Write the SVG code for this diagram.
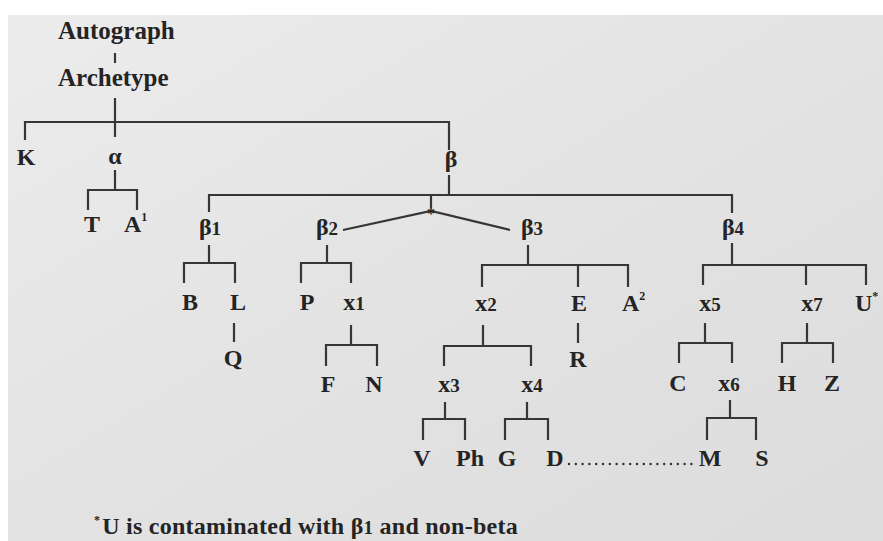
<svg xmlns="http://www.w3.org/2000/svg" width="883" height="541" viewBox="0 0 883 541">
  <defs>
    <linearGradient id="paper" x1="0" y1="0" x2="1" y2="1">
      <stop offset="0" stop-color="#ececec"/>
      <stop offset="0.5" stop-color="#e3e3e3"/>
      <stop offset="1" stop-color="#dcdcdc"/>
    </linearGradient>
    <style>
      .lbl { font-family: "Liberation Serif", "Times New Roman", serif; font-weight: bold; font-size: 24px; fill: #242424; text-anchor: middle; }
      .big { font-size: 25px; text-anchor: start; }
      .st { text-anchor: start; }
      .num { font-size: 19px; }
      .sup { font-size: 12px; }
      .note { font-family: "Liberation Serif", "Times New Roman", serif; font-weight: bold; font-size: 24px; letter-spacing: 0.25px; fill: #242424; }
      .edge { fill: none; stroke: #363636; stroke-width: 2.2; stroke-linecap: butt; stroke-linejoin: miter; }
      .dots { fill: none; stroke: #303030; stroke-width: 2.4; stroke-linecap: round; stroke-dasharray: 0 6.8; }
    </style>
  </defs>

  <!-- page -->
  <rect x="0" y="0" width="883" height="541" fill="#ffffff"/>
  <rect x="8" y="15" width="875" height="526" fill="url(#paper)"/>

  <!-- connectors -->
  <g id="connectors">
    <path class="edge" d="M115 53 V63"/>
    <path class="edge" d="M115 98 V137"/>
    <path class="edge" d="M25 140 V122 H449 V150"/>
    <!-- alpha -->
    <path class="edge" d="M115 170 V190"/>
    <path class="edge" d="M88 210 V190 H137 V210"/>
    <!-- beta -->
    <path class="edge" d="M449 175 V195"/>
    <path class="edge" d="M209 212 V195 H732 V213"/>
    <path class="edge" d="M431 195 V208"/>
    <path class="edge" d="M343 230 L431 211 L510 230"/>
    <!-- beta1 -->
    <path class="edge" d="M209 245 V263"/>
    <path class="edge" d="M184 283 V263 H235 V283"/>
    <path class="edge" d="M234 323 V342"/>
    <!-- beta2 -->
    <path class="edge" d="M327 245 V263"/>
    <path class="edge" d="M301 283 V263 H351 V283"/>
    <path class="edge" d="M351 325 V345"/>
    <path class="edge" d="M326 366 V345 H377 V366"/>
    <!-- beta3 -->
    <path class="edge" d="M528 245 V265"/>
    <path class="edge" d="M482 287 V265 H628 V287"/>
    <path class="edge" d="M578 265 V287"/>
    <path class="edge" d="M578 323 V343"/>
    <path class="edge" d="M483 325 V346"/>
    <path class="edge" d="M444 366 V346 H531 V366"/>
    <path class="edge" d="M445 402 V419"/>
    <path class="edge" d="M423 440 V419 H465 V440"/>
    <path class="edge" d="M527 402 V419"/>
    <path class="edge" d="M505 440 V419 H548 V440"/>
    <!-- beta4 -->
    <path class="edge" d="M732 243 V265"/>
    <path class="edge" d="M703 285 V265 H866 V285"/>
    <path class="edge" d="M806 265 V285"/>
    <path class="edge" d="M705 323 V343"/>
    <path class="edge" d="M679 363 V343 H732 V363"/>
    <path class="edge" d="M807 323 V343"/>
    <path class="edge" d="M782 363 V343 H833 V363"/>
    <path class="edge" d="M730 400 V418"/>
    <path class="edge" d="M707 440 V418 H756 V440"/>
    <!-- contamination D ... M -->
    <path class="dots" d="M569 464 H697"/>
  </g>

  <g id="n-autograph"><text class="lbl big" x="58" y="39">Autograph</text></g>
  <g id="n-archetype"><text class="lbl big" x="58" y="86">Archetype</text></g>

  <g id="n-K"><text class="lbl" x="26" y="165">K</text></g>
  <g id="n-alpha"><text class="lbl" x="115" y="164">α</text></g>
  <g id="n-beta"><text class="lbl" x="451" y="167">β</text></g>
  <g id="n-star"><text class="lbl" x="431" y="219" style="font-size:16px">*</text></g>

  <g id="n-T"><text class="lbl" x="92" y="232">T</text></g>
  <g id="n-A1"><text class="lbl st" x="124" y="232">A<tspan class="sup" dy="-11">1</tspan></text></g>
  <g id="n-beta1"><text class="lbl" x="210" y="235">β<tspan class="num">1</tspan></text></g>
  <g id="n-beta2"><text class="lbl" x="327" y="235">β<tspan class="num">2</tspan></text></g>
  <g id="n-beta3"><text class="lbl" x="532" y="235">β<tspan class="num">3</tspan></text></g>
  <g id="n-beta4"><text class="lbl" x="733" y="235">β<tspan class="num">4</tspan></text></g>

  <g id="n-B"><text class="lbl" x="190" y="310">B</text></g>
  <g id="n-L"><text class="lbl" x="238" y="310">L</text></g>
  <g id="n-P"><text class="lbl" x="307" y="310">P</text></g>
  <g id="n-x1"><text class="lbl" x="354" y="310">x<tspan class="num">1</tspan></text></g>
  <g id="n-x2"><text class="lbl" x="486" y="311">x<tspan class="num">2</tspan></text></g>
  <g id="n-E"><text class="lbl" x="579" y="311">E</text></g>
  <g id="n-A2"><text class="lbl st" x="622" y="311">A<tspan class="sup" dy="-11">2</tspan></text></g>
  <g id="n-x5"><text class="lbl" x="710" y="311">x<tspan class="num">5</tspan></text></g>
  <g id="n-x7"><text class="lbl" x="812" y="311">x<tspan class="num">7</tspan></text></g>
  <g id="n-U"><text class="lbl st" x="855" y="311">U<tspan class="sup" dy="-11">*</tspan></text></g>

  <g id="n-Q"><text class="lbl" x="233" y="366">Q</text></g>
  <g id="n-R"><text class="lbl" x="578" y="367">R</text></g>

  <g id="n-F"><text class="lbl" x="328" y="392">F</text></g>
  <g id="n-N"><text class="lbl" x="374" y="392">N</text></g>
  <g id="n-x3"><text class="lbl" x="449" y="392">x<tspan class="num">3</tspan></text></g>
  <g id="n-x4"><text class="lbl" x="532" y="392">x<tspan class="num">4</tspan></text></g>
  <g id="n-C"><text class="lbl" x="678" y="391">C</text></g>
  <g id="n-x6"><text class="lbl" x="729" y="391">x<tspan class="num">6</tspan></text></g>
  <g id="n-H"><text class="lbl" x="787" y="391">H</text></g>
  <g id="n-Z"><text class="lbl" x="832" y="391">Z</text></g>

  <g id="n-V"><text class="lbl" x="422" y="466">V</text></g>
  <g id="n-Ph"><text class="lbl" x="470" y="466">Ph</text></g>
  <g id="n-G"><text class="lbl" x="507" y="466">G</text></g>
  <g id="n-D"><text class="lbl" x="555" y="466">D</text></g>
  <g id="n-M"><text class="lbl" x="710" y="466">M</text></g>
  <g id="n-S"><text class="lbl" x="762" y="466">S</text></g>

  <!-- footnote -->
  <g id="footnote">
    <text class="note" x="94" y="534"><tspan class="sup" dy="-10">*</tspan><tspan dy="10" dx="2">U is contaminated with β</tspan><tspan class="num">1</tspan><tspan> and non-beta</tspan></text>
  </g>
</svg>
